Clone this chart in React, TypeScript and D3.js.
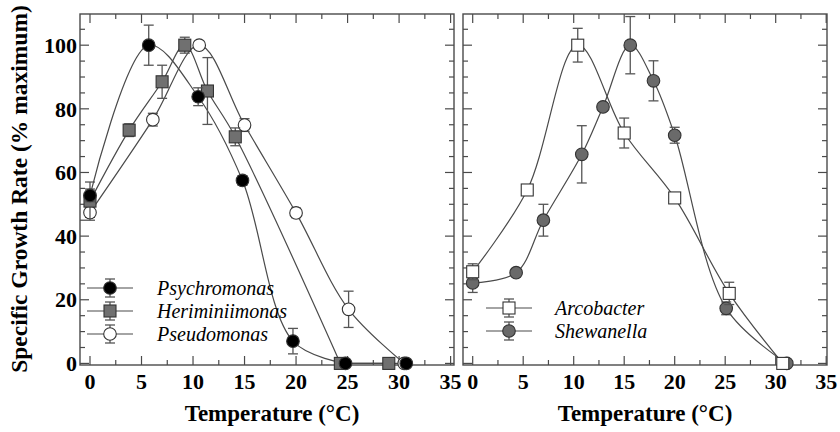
import React, { useRef, useEffect } from 'react';
import * as d3 from 'd3';

// Left panel
const psychroX = [0, 5.7, 10.5, 14.8, 19.7, 24.8, 30.7];
const psychroY = [52.8, 100, 83.8, 57.5, 7, 0, 0];
const psychroErr = [2, 6.3, 2.8, 1.5, 4, 0, 0];

const herimX = [0, 3.8, 7.0, 9.2, 11.4, 14.1, 24.3, 29.0];
const herimY = [51, 73.3, 88.5, 100, 85.6, 71.2, 0, 0];
const herimErr = [6, 2, 5.2, 2.5, 10.5, 2.8, 0, 0];

const pseudoX = [0, 6.1, 10.6, 15.0, 20.0, 25.1, 30.5];
const pseudoY = [47.4, 76.6, 100, 74.9, 47.3, 17, 0];
const pseudoErr = [1.5, 2, 0.8, 2, 1.5, 5.7, 0];

// Right panel
const arcoX = [0, 5.4, 10.4, 15.0, 20.0, 25.4, 30.7];
const arcoY = [28.8, 54.5, 100, 72.4, 52, 22, 0];
const arcoErr = [2.5, 0, 5.3, 4.7, 0, 3.5, 0];

const shewX = [0, 4.3, 7.0, 10.8, 12.9, 15.6, 17.9, 20.0, 25.1, 31.1];
const shewY = [25.3, 28.5, 45, 65.7, 80.6, 100, 88.8, 71.7, 17.3, 0];
const shewErr = [3, 0, 5, 9, 0, 9, 6.3, 2.5, 2, 0];

const xTicks = [0, 5, 10, 15, 20, 25, 30, 35];
const yTicks = [0, 20, 40, 60, 80, 100];

const W = 840, H = 432;
const top = 14, bottom = 365;
const serif = "'Liberation Serif', 'Times New Roman', serif";
const ink = "#4a4a4a";

const App = () => {
    const ref = useRef(null);

    useEffect(() => {
        const svg = d3.select(ref.current);
        svg.selectAll("*").remove();

        const y = d3.scaleLinear().domain([-0.5, 109.8]).range([bottom, top]);

        const drawPanel = (x0, x1, domain, showY, series, legend) => {
            const x = d3.scaleLinear().domain(domain).range([x0, x1]);
            const g = svg.append("g");

            // ticks on all four sides, pointing in
            const xMinor = d3.range(0, 35.1, 2.5);
            xMinor.forEach(v => {
                const len = v % 5 === 0 ? 9 : 5;
                g.append("line").attr("x1", x(v)).attr("x2", x(v)).attr("y1", bottom).attr("y2", bottom - len)
                    .attr("stroke", ink).attr("stroke-width", 1.2);
                g.append("line").attr("x1", x(v)).attr("x2", x(v)).attr("y1", top).attr("y2", top + len)
                    .attr("stroke", ink).attr("stroke-width", 1.2);
            });
            const yMinor = d3.range(0, 110, 5);
            yMinor.forEach(v => {
                const len = v % 20 === 0 ? 9 : 5;
                g.append("line").attr("x1", x0).attr("x2", x0 + len).attr("y1", y(v)).attr("y2", y(v))
                    .attr("stroke", ink).attr("stroke-width", 1.2);
                g.append("line").attr("x1", x1).attr("x2", x1 - len).attr("y1", y(v)).attr("y2", y(v))
                    .attr("stroke", ink).attr("stroke-width", 1.2);
            });

            g.append("rect").attr("x", x0).attr("y", top).attr("width", x1 - x0).attr("height", bottom - top)
                .attr("fill", "none").attr("stroke", ink).attr("stroke-width", 1.4);

            g.selectAll(".xt").data(xTicks).join("text")
                .attr("x", d => x(d)).attr("y", bottom + 24)
                .attr("text-anchor", "middle")
                .style("font-family", serif).style("font-weight", "bold").style("font-size", "22px")
                .text(d => d);

            if (showY) {
                g.selectAll(".yt").data(yTicks).join("text")
                    .attr("x", x0 - 3).attr("y", d => y(d)).attr("dy", "0.35em")
                    .attr("text-anchor", "end")
                    .style("font-family", serif).style("font-weight", "bold").style("font-size", "22px")
                    .text(d => d);
            }

            g.append("text")
                .attr("x", (x0 + x1) / 2 + (showY ? 5 : 0)).attr("y", 421)
                .attr("text-anchor", "middle")
                .style("font-family", serif).style("font-weight", "bold").style("font-size", "23px")
                .text("Temperature (°C)");

            const line = d3.line().x(d => x(d[0])).y(d => y(d[1])).curve(d3.curveCatmullRom.alpha(0.5));

            const marker = (sel, s, cx, cy) => {
                if (s.shape === "circle") {
                    sel.append("circle").attr("cx", cx).attr("cy", cy).attr("r", 6.3)
                        .attr("fill", s.fill).attr("stroke", "#333").attr("stroke-width", 1.1);
                } else {
                    sel.append("rect").attr("x", cx - 6).attr("y", cy - 6).attr("width", 12).attr("height", 12)
                        .attr("fill", s.fill).attr("stroke", "#333").attr("stroke-width", 1.1);
                }
            };

            // curves first: smooth up to the first zero, then straight along the axis
            series.forEach(s => {
                const pts = s.x.map((v, i) => [v, s.y[i]]);
                const firstZero = s.y.indexOf(0);
                const curvePts = firstZero >= 0 ? pts.slice(0, firstZero + 1) : pts;
                g.append("path").attr("d", line(curvePts))
                    .attr("fill", "none").attr("stroke", ink).attr("stroke-width", 1.2);
                if (firstZero >= 0 && firstZero < pts.length - 1) {
                    g.append("path").attr("d", d3.line().x(d => x(d[0])).y(d => y(d[1]))(pts.slice(firstZero)))
                        .attr("fill", "none").attr("stroke", ink).attr("stroke-width", 1.2);
                }
            });

            // error bars and markers
            series.forEach(s => {
                s.x.forEach((v, i) => {
                    const e = s.err[i];
                    if (e > 0) {
                        const cx = x(v), lo = y(s.y[i] - e), hi = y(s.y[i] + e);
                        g.append("line").attr("x1", cx).attr("x2", cx).attr("y1", lo).attr("y2", hi)
                            .attr("stroke", "#555").attr("stroke-width", 1.3);
                        [lo, hi].forEach(yy => g.append("line").attr("x1", cx - 5).attr("x2", cx + 5)
                            .attr("y1", yy).attr("y2", yy).attr("stroke", "#555").attr("stroke-width", 1.3));
                    }
                });
                s.x.forEach((v, i) => marker(g, s, x(v), y(s.y[i])));
            });

            // legend
            legend.rows.forEach((s, i) => {
                const cy = legend.y + i * 23;
                const cx = legend.x;
                g.append("line").attr("x1", cx - 23).attr("x2", cx + 23).attr("y1", cy).attr("y2", cy)
                    .attr("stroke", ink).attr("stroke-width", 1.2);
                g.append("line").attr("x1", cx).attr("x2", cx).attr("y1", cy - 9).attr("y2", cy + 9)
                    .attr("stroke", "#555").attr("stroke-width", 1.3);
                [cy - 9, cy + 9].forEach(yy => g.append("line").attr("x1", cx - 5).attr("x2", cx + 5)
                    .attr("y1", yy).attr("y2", yy).attr("stroke", "#555").attr("stroke-width", 1.3));
                marker(g, s, cx, cy);
                g.append("text").attr("x", legend.tx).attr("y", cy).attr("dy", "0.33em")
                    .style("font-family", serif).style("font-style", "italic").style("font-size", "20px")
                    .text(s.name);
            });
        };

        const psychro = { name: "Psychromonas", x: psychroX, y: psychroY, err: psychroErr, shape: "circle", fill: "#000" };
        const herim = { name: "Heriminiimonas", x: herimX, y: herimY, err: herimErr, shape: "square", fill: "#707070" };
        const pseudo = { name: "Pseudomonas", x: pseudoX, y: pseudoY, err: pseudoErr, shape: "circle", fill: "#fff" };
        const arco = { name: "Arcobacter", x: arcoX, y: arcoY, err: arcoErr, shape: "square", fill: "#fff" };
        const shew = { name: "Shewanella", x: shewX, y: shewY, err: shewErr, shape: "circle", fill: "#6a6a6a" };

        drawPanel(80, 454, [-0.97, 35.33], true, [pseudo, herim, psychro],
            { x: 110, y: 288, tx: 157, rows: [psychro, herim, pseudo] });
        drawPanel(463, 827, [-0.96, 35.08], false, [shew, arco],
            { x: 509, y: 308, tx: 555, rows: [arco, shew] });

        // shared y title
        svg.append("text")
            .attr("transform", `translate(27,189) rotate(-90)`)
            .attr("text-anchor", "middle")
            .style("font-family", serif).style("font-weight", "bold").style("font-size", "23.5px")
            .text("Specific Growth Rate (% maximum)");
    }, []);

    return <svg ref={ref} width={W} height={H} style={{ position: "absolute", left: 0, top: 0, background: "#fff" }} />;
};

export default App;
